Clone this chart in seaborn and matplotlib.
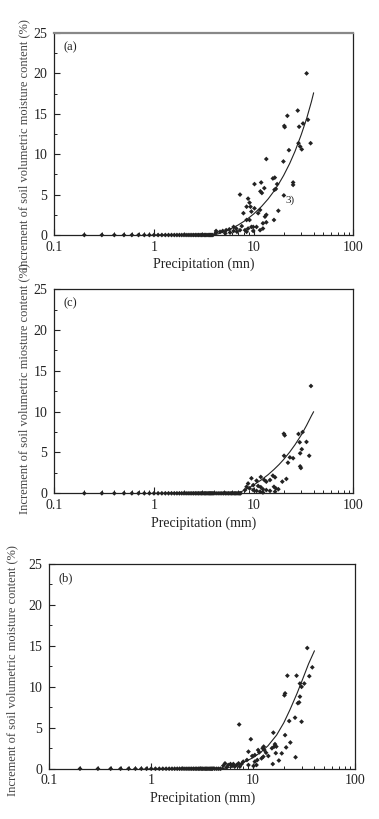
import numpy as np
import pandas as pd
import matplotlib
matplotlib.use("Agg")
import matplotlib.pyplot as plt
import seaborn as sns
from matplotlib.ticker import LogLocator, MultipleLocator, FixedLocator, FixedFormatter

# ---------------- data ----------------
zero_a = [0.2, 0.3, 0.4, 0.5, 0.6, 0.7, 0.8, 0.9, 1.0, 1.1, 1.2, 1.3, 1.4, 1.5, 1.6, 1.7, 1.8, 1.9,
          2.0, 2.1, 2.2, 2.3, 2.4, 2.5, 2.6, 2.7, 2.8, 2.9, 3.0, 3.1, 3.2, 3.3, 3.4, 3.5, 3.6, 3.7, 3.8, 3.9]
a_x = [34.0, 27.7, 21.8, 20.3, 20.5, 28.6, 31.3, 35.1, 37.3, 28.2, 29.3, 30.4, 22.6, 19.9, 13.4,
       15.6, 16.3, 17.2, 16.7, 16.2, 24.9, 24.9, 20.1, 17.7, 16.0, 13.0, 13.4, 12.4, 11.7, 12.1,
       11.9, 10.2, 12.8, 7.3, 8.8, 8.5, 9.1, 9.3, 9.5, 10.2, 11.1, 11.6, 7.9, 8.5, 9.1, 9.9, 10.7,
       11.6, 12.4, 13.4, 9.5, 8.8, 8.2, 7.3, 6.7, 6.3, 5.7, 5.3, 4.9, 4.6, 4.2, 4.2, 6.3, 7.6, 6.8,
       5.8, 5.2, 9.9, 8.5]
a_y = [20.0, 15.4, 14.75, 13.5, 13.35, 13.4, 13.8, 14.26, 11.36, 11.36, 10.95, 10.6, 10.5, 9.1, 9.4,
       7.0, 7.1, 6.3, 5.7, 5.6, 6.5, 6.2, 4.9, 3.0, 1.86, 2.27, 2.5, 1.45, 5.4, 5.2,
       6.5, 6.3, 5.8, 5.0, 4.5, 3.5, 4.0, 3.5, 2.9, 3.3, 2.7, 3.1, 2.7, 1.86, 1.86, 1.0, 1.0,
       0.6, 0.8, 1.57, 1.0, 0.8, 0.6, 0.6, 0.8, 1.0, 0.7, 0.6, 0.5, 0.4, 0.3, 0.5, 0.5, 1.1, 0.4,
       0.3, 0.2, 0.5, 0.4]
a_fit_x = [4, 4.5, 5, 5.5, 6, 7, 8, 9, 10, 12, 14, 16, 18, 20, 23, 26, 30, 34, 38, 40]
a_fit_y = [0, 0.18, 0.38, 0.59, 0.81, 1.24, 1.69, 2.15, 2.6, 3.53, 4.47, 5.43, 6.4, 7.37, 8.85,
           10.35, 12.4, 14.4, 16.5, 17.6]

zero_c = [0.2, 0.3, 0.4, 0.5, 0.6, 0.7, 0.8, 0.9, 1.0, 1.1, 1.2, 1.3, 1.4, 1.5, 1.6, 1.7, 1.8, 1.9,
          2.0, 2.1, 2.2, 2.3, 2.4, 2.5, 2.6, 2.7, 2.8, 2.9, 3.0, 3.1, 3.2, 3.3, 3.4, 3.5, 3.6, 3.7,
          3.8, 3.9, 4.0, 4.2, 4.4, 4.6, 4.8, 5.0, 5.2, 5.4, 5.6, 5.8, 6.0, 6.2, 6.4, 6.6, 6.8, 7.0,
          7.2, 7.4]
c_x = [37.6, 20.1, 20.5, 28.2, 31.0, 33.9, 29.0, 30.4, 29.3, 36.1, 20.2, 23.1, 24.9, 22.1, 29.3,
       29.8, 21.3, 19.4, 15.6, 16.4, 14.6, 13.4, 11.8, 12.8, 10.7, 9.5, 8.8, 8.5, 9.9, 11.1, 11.8,
       12.4, 13.4, 16.0, 16.7, 17.7, 16.4, 14.6, 9.9, 9.1, 8.2, 10.7, 11.6, 12.4]
c_y = [13.15, 7.3, 7.1, 7.27, 7.5, 6.3, 6.25, 5.4, 4.9, 4.6, 4.6, 4.4, 4.3, 3.75, 3.3,
       3.1, 1.76, 1.43, 2.16, 1.96, 1.63, 1.43, 2.0, 1.63, 1.55, 1.84, 1.2, 0.8, 1.0, 0.9, 0.75,
       0.5, 0.4, 0.8, 0.6, 0.5, 0.2, 0.3, 0.4, 0.6, 0.4, 0.3, 0.2, 0.1]
c_fit_x = [7, 7.5, 8, 9, 10, 12, 14, 16, 18, 20, 23, 26, 30, 34, 38, 40]
c_fit_y = [0, 0.19, 0.36, 0.69, 1.02, 1.66, 2.29, 2.92, 3.53, 4.14, 5.05, 5.95, 7.13, 8.33, 9.5, 10.0]

zero_b = [0.2, 0.3, 0.4, 0.5, 0.6, 0.7, 0.8, 0.9, 1.0, 1.1, 1.2, 1.3, 1.4, 1.5, 1.6, 1.7, 1.8, 1.9,
          2.0, 2.1, 2.2, 2.3, 2.4, 2.5, 2.6, 2.7, 2.8, 2.9, 3.0, 3.1, 3.2, 3.3, 3.4, 3.5, 3.6, 3.7,
          3.8, 3.9, 4.0, 4.2, 4.4, 4.6, 4.8]
b_x = [34.0, 38.1, 35.6, 26.7, 28.8, 31.8, 29.9, 20.6, 20.3, 21.7, 28.8, 28.3, 27.5, 29.9, 25.8,
       22.6, 20.6, 23.2, 21.1, 26.1, 19.1, 15.8, 16.4, 16.1, 16.9, 15.3, 16.7, 17.9, 15.6, 7.3,
       9.5, 9.0, 10.4, 9.8, 11.2, 11.5, 12.4, 12.7, 12.9, 13.4, 14.1, 12.1, 12.6, 11.0, 10.4, 10.8,
       8.7, 8.0, 7.7, 9.0, 10.1, 7.2, 6.9, 6.4, 6.2, 5.7, 5.3, 5.1, 5.5, 6.6, 7.4, 6.0]
b_y = [14.74, 12.38, 11.3, 11.36, 10.4, 10.4, 10.0, 9.2, 8.96, 11.36, 8.8, 8.1, 8.0, 5.74, 6.23,
       5.82, 4.1, 3.2, 2.6, 1.4, 1.87, 4.4, 3.0, 2.7, 2.7, 2.5, 1.9, 1.0, 0.57, 5.4,
       3.6, 2.08, 1.67, 1.55, 2.28, 2.0, 2.5, 2.7, 2.28, 1.95, 1.55, 1.26, 1.47, 1.06, 0.86, 0.45,
       1.06, 0.86, 0.57, 0.45, 0.33, 0.65, 0.45, 0.57, 0.33, 0.45, 0.65, 0.37, 0.16, 0.25, 0.25, 0.57]
b_fit_x = [5, 6, 7, 8, 10, 12, 14, 17, 20, 23, 27, 31, 35, 40]
b_fit_y = [0, 0.2, 0.45, 0.75, 1.35, 2.05, 2.8, 4.1, 5.6, 7.2, 9.2, 11.1, 12.8, 14.4]

panels = [
    dict(label="(a)", zero=zero_a, x=a_x, y=a_y, fx=a_fit_x, fy=a_fit_y,
         ylabel="Increment of soil volumetric moisture content (%)", xlabel="Precipitation (mn)"),
    dict(label="(c)", zero=zero_c, x=c_x, y=c_y, fx=c_fit_x, fy=c_fit_y,
         ylabel="Increment of soil volumetric miosture content (%)", xlabel="Precipitation (mm)"),
    dict(label="(b)", zero=zero_b, x=b_x, y=b_y, fx=b_fit_x, fy=b_fit_y,
         ylabel="Increment of soil volumetric moisture content (%)", xlabel="Precipitation (mm)"),
]
x_ticks = [0.1, 1, 10, 100]
x_ticklabels = ["0.1", "1", "10", "100"]
y_ticks = [0, 5, 10, 15, 20, 25]

# ---------------- style ----------------
sns.set_style("ticks")
plt.rcParams['font.family'] = ['Liberation Serif', 'DejaVu Serif']

fig = plt.figure(figsize=(3.79, 8.19), dpi=100)
positions = [
    [54.3 / 379, 1 - 235 / 819, 299 / 379, 202 / 819],
    [54.3 / 379, 1 - 493.3 / 819, 299 / 379, 204 / 819],
    [49.3 / 379, 1 - 768.7 / 819, 305.7 / 379, 204.7 / 819],
]
ylabel_coords = [(-0.082, 0.45), (-0.082, 0.515), (-0.10, 0.477)]
ink = "#222222"
for p, pos, lc in zip(panels, positions, ylabel_coords):
    ax = fig.add_axes(pos)
    pts = pd.DataFrame({"x": list(p["zero"]) + list(p["x"]),
                        "y": [0.0] * len(p["zero"]) + list(p["y"])})
    sns.scatterplot(data=pts, x="x", y="y", ax=ax, marker="D", s=6, color=ink,
                    edgecolor="none", linewidth=0, zorder=3, clip_on=False)
    fit = pd.DataFrame({"x": p["fx"], "y": p["fy"]})
    sns.lineplot(data=fit, x="x", y="y", ax=ax, color=ink, linewidth=0.8, sort=True, zorder=2)
    ax.set_xscale("log")
    ax.set_xlim(0.1, 100)
    ax.set_ylim(0, 25)
    ax.xaxis.set_major_locator(FixedLocator(x_ticks))
    ax.xaxis.set_major_formatter(FixedFormatter(x_ticklabels))
    ax.xaxis.set_minor_locator(LogLocator(base=10, subs=[2, 3, 4, 5, 6, 7, 8, 9], numticks=20))
    ax.yaxis.set_major_locator(FixedLocator(y_ticks))
    ax.yaxis.set_minor_locator(MultipleLocator(2.5))
    ax.tick_params(which="both", direction="in", top=False, right=False,
                   labelsize=10, colors=ink)
    ax.tick_params(axis="x", which="both", pad=4)
    ax.tick_params(axis="y", which="both", pad=5)
    ax.tick_params(which="major", length=4, width=0.8)
    ax.tick_params(which="minor", length=2.5, width=0.7)
    for s in ax.spines.values():
        s.set_color(ink)
        s.set_linewidth(0.9)
    if p["label"] == "(a)":
        ax.spines["top"].set_color("#888888")
        ax.spines["top"].set_linewidth(1.6)
    ax.set_xlabel(p["xlabel"], fontsize=10, color=ink, labelpad=3)
    ax.set_ylabel(p["ylabel"], fontsize=9, color="#444444")
    ax.yaxis.set_label_coords(lc[0], lc[1])
    ax.text(0.03, 0.96, p["label"], transform=ax.transAxes, fontsize=9, color=ink,
            ha="left", va="top")
    if p["label"] == "(a)":
        ax.text(23.0, 4.3, "3)", fontsize=8, color=ink, ha="center", va="center")

fig.savefig("out.png", dpi=100)
